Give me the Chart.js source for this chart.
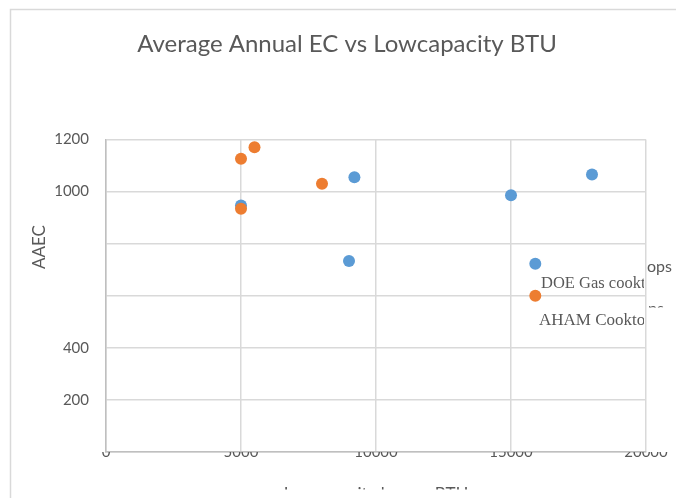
<!DOCTYPE html>
<html>
<head>
<meta charset="utf-8">
<script src="https://cdn.jsdelivr.net/npm/chart.js@4/dist/chart.umd.min.js"></script>
<style>
  html, body { margin: 0; padding: 0; background: #ffffff; }
  #wrap { width: 676px; height: 498px; }
</style>
</head>
<body>
<div id="wrap"><canvas id="c" width="676" height="498"></canvas></div>
<script>
// Low-capacity burner rating (BTU) against average annual energy consumption
const chartTitle = 'Average Annual EC vs Lowcapacity BTU';
const xAxisTitle = 'Lowcapacity burner BTU';
const yAxisTitle = 'AAEC';

const doeLabel = 'DOE Gas cooktops';
const doeBtu  = [5000, 9200, 9000, 15000, 15900, 18000];
const doeAaec = [947, 1055, 733, 986, 723, 1066];

const ahamLabel = 'AHAM Cooktops';
const ahamBtu  = [5000, 5500, 5000, 8000, 15900];
const ahamAaec = [1126, 1170, 934, 1030, 600];

const xTicks = [0, 5000, 10000, 15000, 20000];
const yTickLabels = [200, 400, 1000, 1200];

const toPoints = (xs, ys) => xs.map((x, i) => ({ x: x, y: ys[i] }));

const TEXT = '#595959';
const GRID = '#d9d9d9';
const AXIS = '#bfbfbf';
const SANS = 'Lato, "Open Sans", sans-serif';
const SERIF = '"Liberation Serif", "DejaVu Serif", serif';

// outer frame of the chart object
const framePlugin = {
  id: 'frame',
  beforeDraw(chart) {
    const ctx = chart.ctx;
    ctx.save();
    ctx.strokeStyle = GRID;
    ctx.lineWidth = 1.5;
    ctx.beginPath();
    ctx.moveTo(10.5, chart.height);
    ctx.lineTo(10.5, 9.5);
    ctx.lineTo(chart.width, 9.5);
    ctx.stroke();
    ctx.restore();
  }
};

// chart title, axis titles and series names
const textPlugin = {
  id: 'chartText',
  afterDraw(chart) {
    const ctx = chart.ctx;
    const area = chart.chartArea;
    ctx.save();
    ctx.fillStyle = TEXT;

    // chart title
    ctx.font = '24px ' + SANS;
    ctx.textAlign = 'center';
    ctx.textBaseline = 'alphabetic';
    ctx.fillText(chartTitle, 347, 52);

    // vertical axis title
    ctx.save();
    ctx.translate(40, 247);
    ctx.rotate(-Math.PI / 2);
    ctx.font = '17px ' + SANS;
    ctx.textAlign = 'center';
    ctx.textBaseline = 'middle';
    ctx.fillText(yAxisTitle, 0, 0);
    ctx.restore();

    ctx.textAlign = 'left';
    ctx.textBaseline = 'alphabetic';

    // tail of the first series name, outside the plot
    ctx.font = '16px ' + SANS;
    ctx.fillText(doeLabel.slice(-3), area.right + 1, 272);

    // tail of the second series name, mostly hidden
    ctx.save();
    ctx.beginPath();
    ctx.rect(area.right, 300, 40, 7.5);
    ctx.clip();
    ctx.fillText(ahamLabel.slice(-2), area.right + 2, 314);
    ctx.restore();

    // series names inside the plot, clipped near the right edge
    ctx.save();
    ctx.beginPath();
    ctx.rect(area.left, area.top, area.right - area.left - 2, area.bottom - area.top);
    ctx.clip();
    ctx.font = '16.5px ' + SERIF;
    ctx.fillText(doeLabel, 541, 288);
    ctx.font = '17px ' + SERIF;
    ctx.fillText(ahamLabel, 539, 325);
    ctx.restore();

    // bottom axis title, only its upper part shows
    ctx.save();
    ctx.beginPath();
    ctx.rect(0, 470, chart.width, 19.5);
    ctx.clip();
    ctx.font = '17px ' + SANS;
    ctx.textAlign = 'center';
    ctx.textBaseline = 'top';
    ctx.fillText(xAxisTitle, (area.left + area.right) / 2, 486);
    ctx.restore();

    ctx.restore();
  }
};

new Chart(document.getElementById('c'), {
  type: 'scatter',
  data: {
    datasets: [
      {
        label: ahamLabel,
        data: toPoints(ahamBtu, ahamAaec),
        backgroundColor: '#ED7D31',
        borderWidth: 0,
        pointRadius: 6,
        pointHoverRadius: 6,
        order: 0
      },
      {
        label: doeLabel,
        data: toPoints(doeBtu, doeAaec),
        backgroundColor: '#5B9BD5',
        borderWidth: 0,
        pointRadius: 6,
        pointHoverRadius: 6,
        order: 1
      }
    ]
  },
  options: {
    responsive: false,
    animation: false,
    events: [],
    layout: { padding: { left: 10, right: 30, top: 139.5, bottom: 0 } },
    plugins: {
      legend: { display: false },
      tooltip: { enabled: false },
      title: { display: false }
    },
    scales: {
      x: {
        type: 'linear',
        min: xTicks[0],
        max: xTicks[xTicks.length - 1],
        afterBuildTicks(scale) { scale.ticks = xTicks.map(v => ({ value: v })); },
        afterFit(scale) { scale.height = 46; },
        ticks: {
          color: TEXT,
          font: { family: SANS, size: 15, lineHeight: 1.2 },
          padding: -9,
          maxRotation: 0,
          callback: v => String(v)
        },
        grid: { color: GRID, lineWidth: 1.5, drawTicks: false },
        border: { color: AXIS, width: 1.5 }
      },
      y: {
        type: 'linear',
        min: 0,
        max: 1200,
        afterFit(scale) { scale.width = 96; },
        ticks: {
          stepSize: 200,
          color: TEXT,
          font: { family: SANS, size: 15, lineHeight: 1.2 },
          padding: 17,
          callback: v => (yTickLabels.includes(v) ? String(v) : '')
        },
        grid: { color: GRID, lineWidth: 1.5, drawTicks: false },
        border: { color: AXIS, width: 1.5 }
      }
    }
  },
  plugins: [framePlugin, textPlugin]
});
</script>
</body>
</html>
